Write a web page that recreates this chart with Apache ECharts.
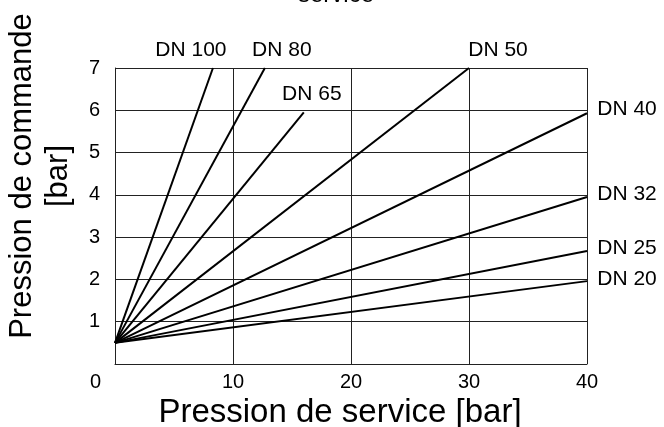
<!DOCTYPE html>
<html>
<head>
<meta charset="utf-8">
<script src="https://cdn.jsdelivr.net/npm/echarts@6/dist/echarts.min.js"></script>
<style>html,body{margin:0;padding:0;background:#fff}#c{width:664px;height:427px}</style>
</head>
<body>
<div id="c"></div>
<script>
// Data
const seriesNames = ['DN 100', 'DN 80', 'DN 65', 'DN 50', 'DN 40', 'DN 32', 'DN 25', 'DN 20'];
const startPoint = [0, 0.5];
const endX = [8.3, 12.7, 16, 30, 40, 40, 40, 40];
const endY = [7, 7, 5.95, 7, 5.93, 3.95, 2.67, 1.96];
const xTicks = [0, 10, 20, 30, 40];
const yTicks = [0, 1, 2, 3, 4, 5, 6, 7];
const titleText = 'service';
const xName = 'Pression de service [bar]';
const yName = 'Pression de commande\n[bar]';

// label placement relative to line end (styling only)
const labelPos = [[-22, -18], [17, -18], [8, -18], [29, -18], [40, -4], [40, -3], [40, -3], [40, -2]];

const FONT = "'Liberation Sans', Arial, sans-serif";
const chart = echarts.init(document.getElementById('c'));

const series = seriesNames.map((name, i) => ({
  name: name,
  type: 'line',
  showSymbol: true,
  symbol: 'circle',
  symbolSize: 0,
  silent: true,
  animation: false,
  lineStyle: { color: '#000', width: 2 },
  itemStyle: { color: '#000' },
  data: [
    { value: startPoint.slice() },
    {
      value: [endX[i], endY[i]],
      label: {
        show: true,
        position: labelPos[i],
        align: 'center',
        verticalAlign: 'middle',
        formatter: name,
        fontSize: 21,
        fontFamily: FONT,
        color: '#000'
      }
    }
  ]
}));

chart.setOption({
  animation: false,
  backgroundColor: '#fff',
  title: {
    text: titleText,
    left: 298,
    top: -17,
    padding: 0,
    textStyle: { fontSize: 24, fontWeight: 'normal', fontFamily: FONT, color: '#000' }
  },
  grid: { left: 115, right: 77, top: 68, bottom: 63, outerBoundsMode: 'none', containLabel: false },
  xAxis: {
    type: 'value',
    min: xTicks[0],
    max: xTicks[xTicks.length - 1],
    interval: 10,
    name: xName,
    nameLocation: 'middle',
    nameGap: 29,
    nameTextStyle: { fontSize: 33, fontFamily: FONT, color: '#000', padding: [0, 22, 0, 0] },
    axisLine: { show: true, lineStyle: { color: '#222', width: 1 } },
    axisTick: { show: false },
    splitLine: { show: true, lineStyle: { color: '#222', width: 1 } },
    axisLabel: {
      fontSize: 20, fontFamily: FONT, color: '#000', margin: 8,
      formatter: v => (v === 0 ? '{z|0}' : String(v)),
      rich: { z: { fontSize: 20, fontFamily: FONT, color: '#000', padding: [0, 39, 0, 0] } }
    }
  },
  yAxis: {
    type: 'value',
    min: yTicks[0],
    max: yTicks[yTicks.length - 1],
    interval: 1,
    name: yName,
    nameLocation: 'middle',
    nameGap: 39,
    nameTextStyle: { fontSize: 31, fontFamily: FONT, color: '#000', lineHeight: 36, padding: [0, 0, 0, 80] },
    axisLine: { show: true, lineStyle: { color: '#222', width: 1 } },
    axisTick: { show: false },
    splitLine: { show: true, lineStyle: { color: '#222', width: 1 } },
    axisLabel: {
      fontSize: 20, fontFamily: FONT, color: '#000', margin: 15,
      formatter: v => (v === 0 ? '' : String(v))
    }
  },
  series: series
});
</script>
</body>
</html>
